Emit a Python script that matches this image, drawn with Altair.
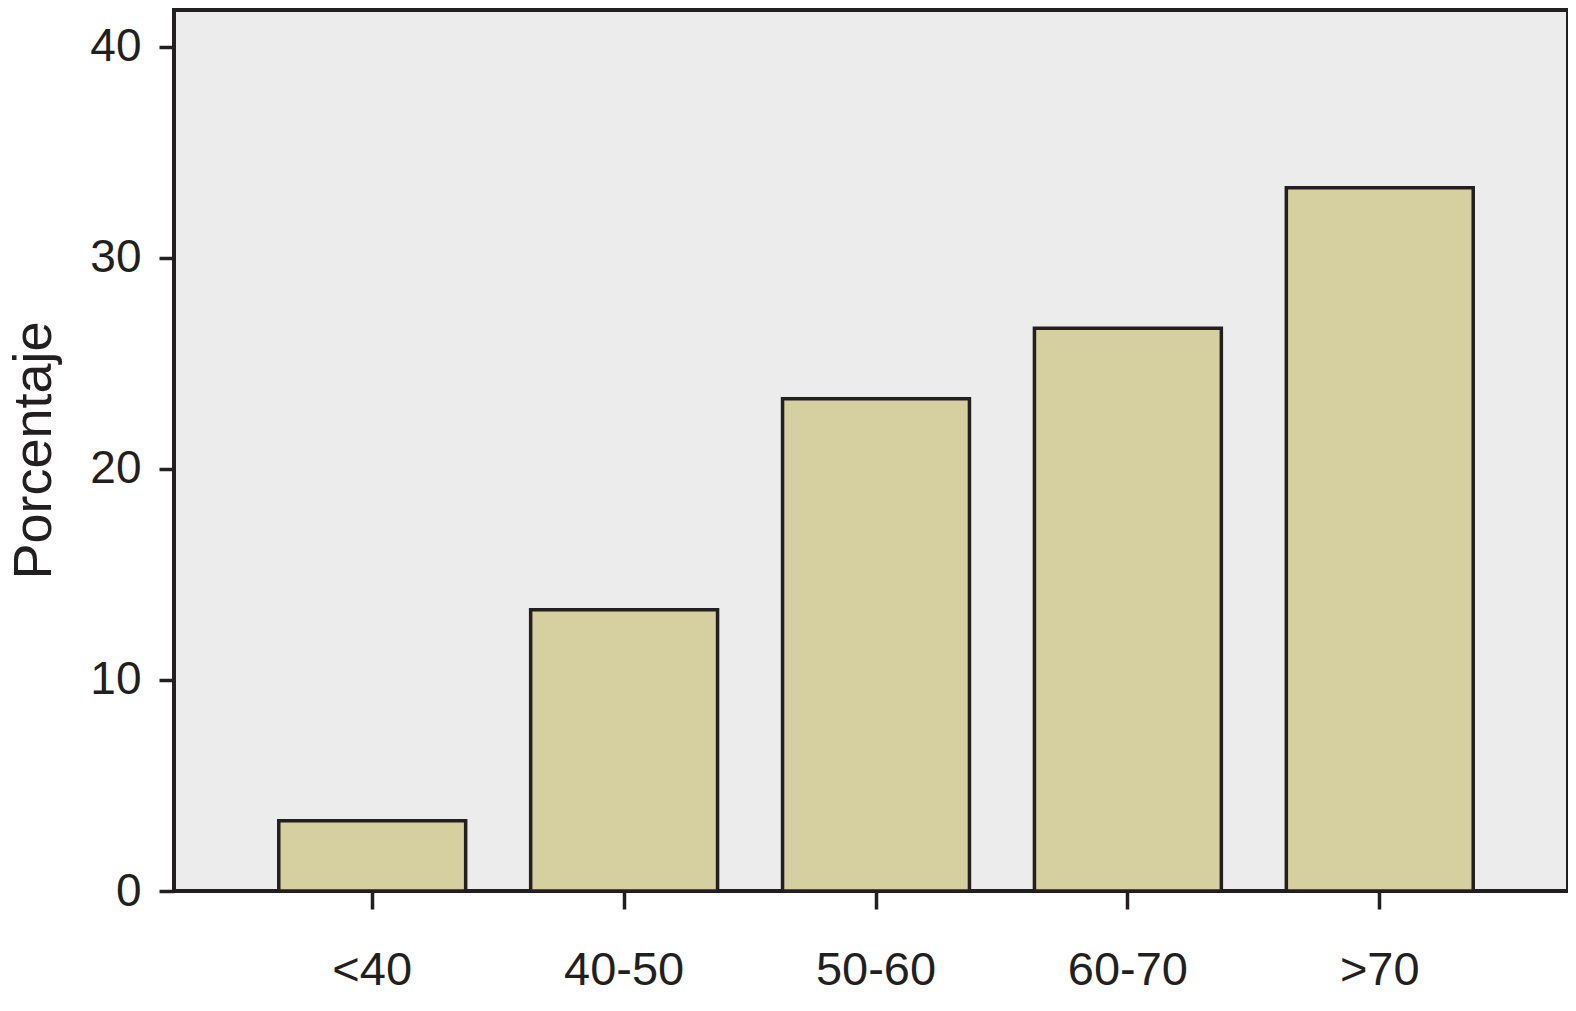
import altair as alt
import pandas as pd

categories = ["<40", "40-50", "50-60", "60-70", ">70"]
percentages = [3.33, 13.33, 23.33, 26.67, 33.33]
y_ticks = [0, 10, 20, 30, 40]

df = pd.DataFrame({"grupo": categories, "porcentaje": percentages})

ink = "#231f20"
font = "Liberation Sans"

chart = alt.Chart(df).mark_bar(fill="#d6cf9f", stroke=ink, strokeWidth=3.5).encode(
    x=alt.X(
        "grupo:N", sort=categories, title=None,
        scale=alt.Scale(paddingInner=0.258, paddingOuter=0.408, range=[2, 1402]),
        axis=alt.Axis(labelAngle=0, labelFont=font, labelFontSize=47, labelColor=ink,
                      labelPadding=38, tickSize=18, tickWidth=3.5, tickColor=ink,
                      domain=False, labelBaseline="top"),
    ),
    y=alt.Y(
        "porcentaje:Q", title="Porcentaje",
        scale=alt.Scale(domain=[0, 41.75], nice=False, zero=True),
        axis=alt.Axis(values=y_ticks, grid=False, labelFont=font, labelFontSize=46,
                      labelColor=ink, tickSize=15, tickWidth=3.5, tickColor=ink,
                      labelPadding=18, domain=False,
                      titleFont=font, titleFontSize=54, titleColor=ink,
                      titleFontWeight="normal", titleAngle=270,
                      titleBaseline="alphabetic", titleAlign="center",
                      titleX=-124, titleY=440),
    ),
).properties(
    width=1394, height=881,
    padding={"left": 166, "top": 2, "right": 0, "bottom": 110},
    autosize="none",
).configure_view(fill="#edecec", stroke=ink, strokeWidth=4)

chart.save("out.html", embed_options={"renderer": "svg", "actions": False})
